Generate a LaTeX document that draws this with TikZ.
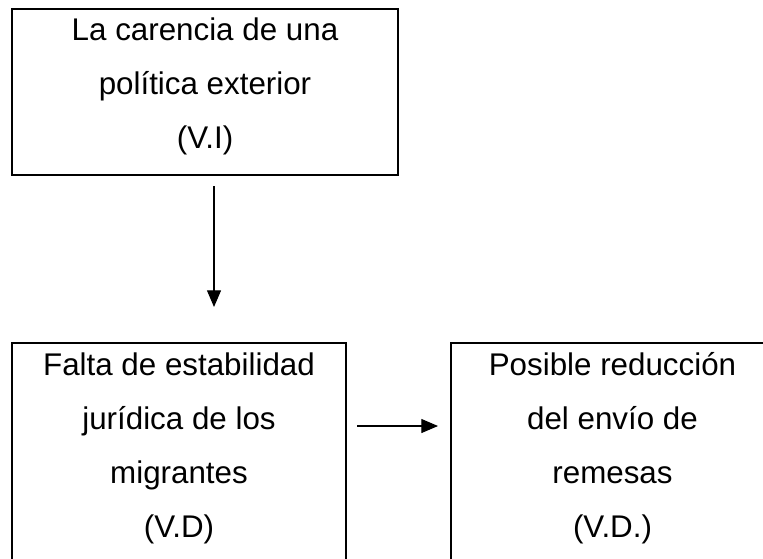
\documentclass[tikz,border=0pt]{standalone}
\usepackage{fontspec}
\setmainfont{Liberation Sans}
\usetikzlibrary{arrows.meta}
\begin{document}
\begin{tikzpicture}[x=0.75pt,y=-0.75pt,
  box/.style={draw=black,line width=1.6pt,inner sep=0pt,outer sep=0pt},
  txt/.style={align=center,inner sep=0pt,font=\fontsize{23.5}{40.5}\selectfont},
  arr/.style={line width=0.8pt,-{Triangle[length=12.5pt,width=10.5pt]}}]
\useasboundingbox (0,0) rectangle (763,558);
\clip (0,0) rectangle (763,558);
\node[box,minimum width=289.5pt,minimum height=124.5pt] (top) at (205,92) {};
\node[box,minimum width=250.5pt,minimum height=180pt] (dl) at (179,463) {};
\node[box,minimum width=242.25pt,minimum height=180pt] (dr) at (612.5,463) {};
\node[txt,anchor=base] (ttop) at (205,148) {La carencia de una\\política exterior\\(V.I)};
\node[txt,anchor=base] (tdl) at (179,537) {Falta de estabilidad\\jurídica de los\\migrantes\\(V.D)};
\node[txt,anchor=base] (tdr) at (612.5,537) {Posible reducción\\del envío de\\remesas\\(V.D.)};
\draw[arr] ([xshift=6.75pt,yshift=-8.25pt]top.south) -- ([xshift=26.25pt,yshift=27pt]dl.north);
\draw[arr] ([xshift=8.25pt,yshift=27.75pt]dl.east) -- ([xshift=-9.75pt,yshift=27.75pt]dr.west);
\end{tikzpicture}
\end{document}
